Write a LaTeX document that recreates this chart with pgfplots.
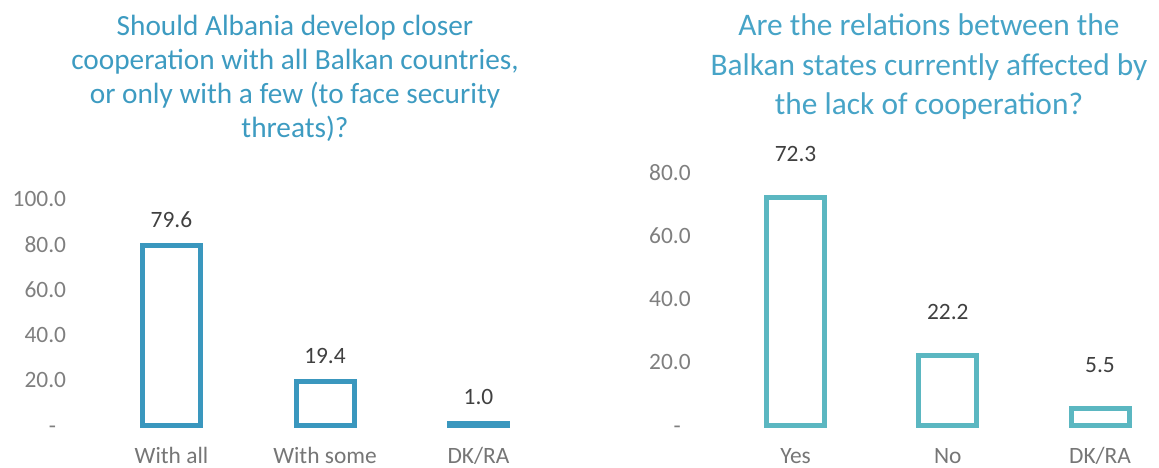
\documentclass[border=0pt]{standalone}
\usepackage{fontspec}
\setmainfont{Carlito}
\usepackage{pgfplots}
\pgfplotsset{compat=1.18}
\definecolor{lbar}{HTML}{3A97BE}
\definecolor{rbar}{HTML}{5BB7C1}
\definecolor{ltitle}{HTML}{3D9BC1}
\definecolor{rtitle}{HTML}{47A4C7}
\definecolor{tickgray}{HTML}{7F7F7F}
\definecolor{catgray}{HTML}{767676}
\definecolor{lblgray}{HTML}{404040}
\pgfplotsset{
  mystyle/.style={
    scale only axis,
    clip=false,
    axis line style={draw=none},
    major tick length=0pt,
    ymin=0,
    xtick=data,
    ybar, bar width=58bp,
    tick label style={font=\fontsize{23.5}{28}\selectfont},
    yticklabel style={color=tickgray, anchor=east, inner sep=0pt, xshift=-28.5bp},
    xticklabel style={color=catgray, anchor=base, inner sep=0pt, yshift=-38.5bp},
    nodes near coords,
    nodes near coords style={font=\fontsize{23.5}{28}\selectfont, color=lblgray, anchor=base, inner sep=0pt, yshift=18.5bp},
    /pgf/number format/fixed,
    /pgf/number format/fixed zerofill,
    /pgf/number format/precision=1,
    /pgf/number format/assume math mode=true,
  }
}
\begin{document}
\begin{tikzpicture}[x=1bp,y=1bp]
\useasboundingbox (0,0) rectangle (1159,468);
\node[anchor=base, align=center, inner sep=0pt, color=ltitle, font=\fontsize{29.4}{34.3}\selectfont] at (295,330)
  {Should Albania develop closer\\cooperation with all Balkan countries,\\or only with a few (to face security\\threats)?};
\node[anchor=base, align=center, inner sep=0pt, color=rtitle, font=\fontsize{31.5}{40}\selectfont] at (929,353)
  {Are the relations between the\\Balkan states currently affected by\\the lack of cooperation?};
\begin{axis}[mystyle,
  at={(94.75bp,42.5bp)}, anchor=south west,
  width=460.5bp, height=226bp,
  xmin=-0.5, xmax=2.5, ymax=100,
  ytick={0,20,40,60,80,100},
  yticklabels={{\vphantom{0}-\rule{10bp}{0pt}},20.0,40.0,60.0,80.0,100.0},
  xticklabels={With all,With some,DK/RA},
]
\addplot[draw=lbar, line width=5bp, fill=white] coordinates {(0,79.6) (1,19.4) (2,1.0)};
\end{axis}
\begin{axis}[mystyle,
  at={(719.4bp,42.5bp)}, anchor=south west,
  width=440bp, height=252.5bp,
  xmin=-0.5, xmax=2.39, ymax=80,
  ytick={0,20,40,60,80},
  yticklabels={{\vphantom{0}-\rule{10bp}{0pt}},20.0,40.0,60.0,80.0},
  xticklabels={Yes,No,DK/RA},
  nodes near coords style={yshift=17.5bp},
]
\addplot[draw=rbar, line width=5bp, fill=white] coordinates {(0,72.3) (1,22.2) (2,5.5)};
\end{axis}
\end{tikzpicture}
\end{document}
